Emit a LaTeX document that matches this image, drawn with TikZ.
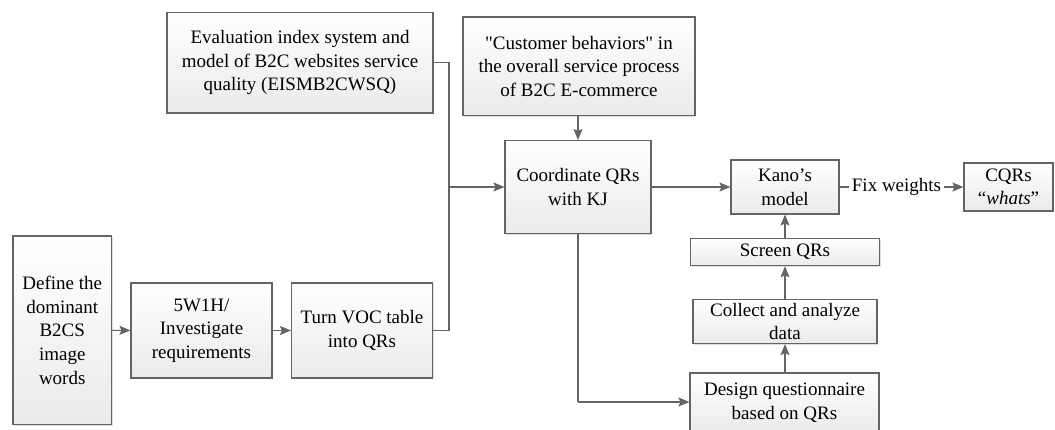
\documentclass[tikz,border=0pt]{standalone}
\usepackage{fontspec}
\setmainfont{Liberation Serif}[Ligatures=TeXOff]
\usetikzlibrary{arrows.meta,shadows}
\definecolor{linec}{RGB}{100,100,100}
\tikzset{
  boxst/.style={draw=linec, line width=1.1pt, top color=white, bottom color=black!8,
    drop shadow={shadow xshift=1.2pt, shadow yshift=-1.2pt, fill=black!25, opacity=0.5},
    inner sep=0pt, align=center, font=\fontsize{19}{23.6}\selectfont},
  arr/.style={draw=linec, line width=1.1pt, -{Stealth[length=11pt,width=9pt,inset=2pt]}},
  ln/.style={draw=linec, line width=1.1pt},
  lbl/.style={inner sep=3pt, font=\fontsize{19}{23.6}\selectfont}
}
\newcommand\mybox[6]{%
  \node[boxst, minimum width={#4pt-#2pt}, minimum height={#5pt-#3pt}] (#1) at ({(#2+#4)/2},{(#3+#5)/2}) {#6};}
\begin{document}
\begin{tikzpicture}[x=1pt,y=-1pt]
\useasboundingbox (0,0) rectangle (1055,430);
\mybox{eism}{167}{12.5}{433}{113}{Evaluation index system and\\model of B2C websites service\\quality (EISMB2CWSQ)}
\mybox{cust}{463}{17}{695}{115.6}{"Customer behaviors" in\\the overall service process\\of B2C E-commerce}
\mybox{coord}{505}{140.5}{651}{233.5}{Coordinate QRs\\with KJ}
\mybox{kano}{731}{160}{839}{214}{Kano’s\\model}
\mybox{cqrs}{964}{163}{1053}{211}{CQRs\\“\textit{whats}”}
\mybox{screen}{690.5}{238.7}{879.5}{265.7}{Screen QRs}
\mybox{collect}{693}{299.5}{877}{343.5}{Collect and analyze\\data}
\mybox{design}{690}{373}{879}{433}{Design questionnaire\\based on QRs}
\mybox{define}{13}{236}{111.5}{424.5}{Define the\\dominant\\B2CS\\image\\words}
\mybox{wh}{131}{283}{272}{378}{5W1H/\\Investigate\\requirements}
\mybox{turn}{291.5}{283}{432.5}{378}{Turn VOC table\\into QRs}
\node[lbl] (fw) at (896.5,187) {Fix weights};
\coordinate (j) at (449,187);
\coordinate (d) at (578,402);
\draw[arr] (define) -- (wh);
\draw[arr] (wh) -- (turn);
\draw[ln] (turn.east) -| (j);
\draw[ln] (eism.east) -| (j);
\draw[arr] (j) -- (coord.west |- j);
\draw[arr] (cust.south -| coord.north) -- (coord.north);
\draw[arr] (coord.east) -- (kano.west);
\draw[ln] (kano.east) -- (fw.west);
\draw[arr] (fw.east) -- (cqrs.west);
\draw[arr] (screen.north) -- (kano.south);
\draw[arr] (collect.north) -- (screen.south);
\draw[arr] (design.north -| collect.south) -- (collect.south);
\draw[ln] (coord.south) -- (d);
\draw[arr] (d) -- (design.west |- d);
\end{tikzpicture}
\end{document}
